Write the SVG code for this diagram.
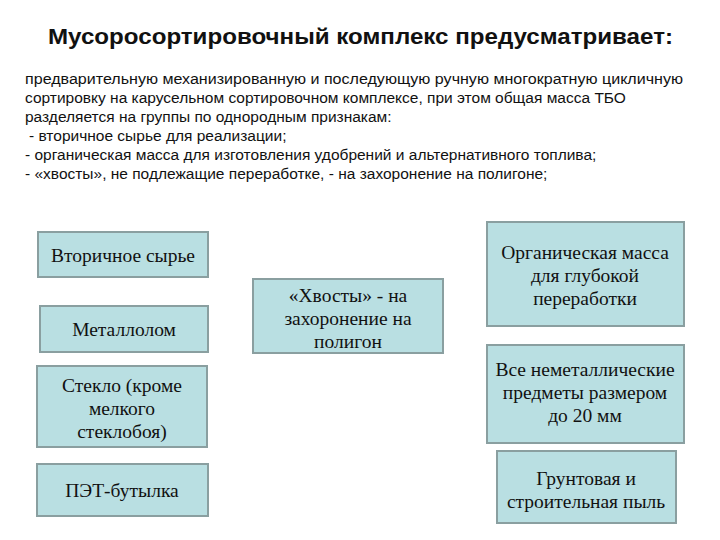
<svg xmlns="http://www.w3.org/2000/svg" width="720" height="540" viewBox="0 0 720 540">
<style>
.b{fill:#b9dfe2;stroke:#8a9fa0;stroke-width:2}
.t{font-family:"Liberation Serif",serif;font-size:19.5px;fill:#111;text-anchor:middle}
.p{font-family:"Liberation Sans",sans-serif;font-size:15.5px;fill:#111}
</style>
<rect width="720" height="540" fill="#fff"/>
<text x="48" y="44" font-family="Liberation Sans,sans-serif" font-weight="bold" font-size="22" fill="#111" textLength="625" lengthAdjust="spacingAndGlyphs">Мусоросортировочный комплекс предусматривает:</text>
<g class="p">
<text x="25" y="84" textLength="658" lengthAdjust="spacingAndGlyphs">предварительную механизированную и последующую ручную многократную цикличную</text>
<text x="25" y="103">сортировку на карусельном сортировочном комплексе, при этом общая масса ТБО</text>
<text x="25" y="122">разделяется на группы по однородным признакам:</text>
<text x="29" y="141">- вторичное сырье для реализации;</text>
<text x="25" y="160">- органическая масса для изготовления удобрений и альтернативного топлива;</text>
<text x="25" y="179">- «хвосты», не подлежащие переработке, - на захоронение на полигоне;</text>
</g>
<g id="n1"><rect class="b" x="38" y="232" width="170" height="45"/><text class="t" x="123" y="262">Вторичное сырье</text></g>
<g id="n2"><rect class="b" x="40" y="306" width="168" height="46"/><text class="t" x="124" y="336">Металлолом</text></g>
<g id="n3"><rect class="b" x="37" y="366" width="170" height="81"/><text class="t" x="122" y="392">Стекло (кроме</text><text class="t" x="122" y="415">мелкого</text><text class="t" x="122" y="438">стеклобоя)</text></g>
<g id="n4"><rect class="b" x="37" y="464" width="171" height="52"/><text class="t" x="122" y="497">ПЭТ-бутылка</text></g>
<g id="n5"><rect class="b" x="253" y="279" width="190" height="74"/><text class="t" x="348" y="302">«Хвосты» - на</text><text class="t" x="348" y="325">захоронение на</text><text class="t" x="348" y="348">полигон</text></g>
<g id="n6"><rect class="b" x="487" y="222" width="197" height="104"/><text class="t" x="585" y="259">Органическая масса</text><text class="t" x="585" y="282">для глубокой</text><text class="t" x="585" y="305">переработки</text></g>
<g id="n7"><rect class="b" x="487" y="345" width="197" height="98"/><text class="t" x="585" y="376">Все неметаллические</text><text class="t" x="585" y="399">предметы размером</text><text class="t" x="585" y="422">до 20 мм</text></g>
<g id="n8"><rect class="b" x="497" y="451" width="179" height="72"/><text class="t" x="586" y="485">Грунтовая  и</text><text class="t" x="586" y="508">строительная пыль</text></g>
<g id="connectors"></g>
</svg>
